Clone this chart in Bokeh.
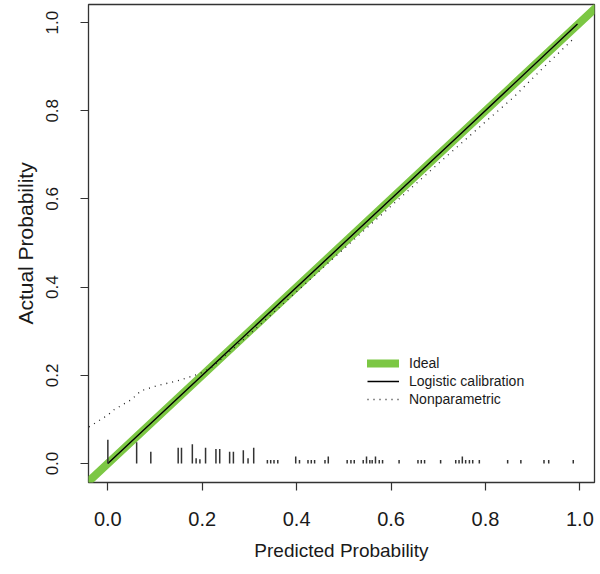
from bokeh.plotting import figure
from bokeh.models import Range1d, FixedTicker, NumeralTickFormatter, Legend, LegendItem
from bokeh.embed import file_html
from bokeh.resources import INLINE

# ---- data ----
tick_values = [0.0, 0.2, 0.4, 0.6, 0.8, 1.0]

ideal_x = [-0.1, 1.1]
ideal_y = [-0.1, 1.1]

logistic_x = [0.0, 0.25, 0.5, 0.75, 0.995]
logistic_y = [0.0, 0.25, 0.5, 0.75, 0.997]

nonpar_x = [-0.04, 0.0, 0.013, 0.05, 0.07, 0.1, 0.155, 0.195, 0.22, 0.25, 0.3,
            0.4, 0.5, 0.6, 0.7, 0.8, 0.86, 0.92, 0.99]
nonpar_y = [0.083, 0.11, 0.122, 0.145, 0.165, 0.175, 0.19, 0.204, 0.218, 0.246, 0.293,
            0.39, 0.487, 0.584, 0.68, 0.775, 0.831, 0.895, 0.967]

rug_x = [0.000, 0.061, 0.091, 0.149, 0.156, 0.179, 0.187, 0.195, 0.207, 0.229,
         0.237, 0.258, 0.266, 0.287, 0.297, 0.309, 0.338, 0.345, 0.352, 0.360,
         0.398, 0.406, 0.424, 0.431, 0.438, 0.460, 0.467, 0.507, 0.515, 0.522,
         0.541, 0.548, 0.555, 0.560, 0.567, 0.575, 0.582, 0.617, 0.657, 0.664,
         0.671, 0.705, 0.737, 0.744, 0.751, 0.758, 0.766, 0.773, 0.787, 0.847,
         0.875, 0.924, 0.934, 0.986]
rug_h = [0.054, 0.048, 0.027, 0.036, 0.036, 0.044, 0.012, 0.010, 0.036, 0.033,
         0.033, 0.027, 0.027, 0.030, 0.012, 0.036, 0.008, 0.008, 0.008, 0.008,
         0.016, 0.008, 0.008, 0.008, 0.008, 0.008, 0.016, 0.008, 0.008, 0.008,
         0.008, 0.016, 0.008, 0.008, 0.016, 0.008, 0.008, 0.008, 0.008, 0.008,
         0.008, 0.008, 0.008, 0.008, 0.016, 0.008, 0.008, 0.008, 0.008, 0.008,
         0.008, 0.008, 0.008, 0.008]
rug_base = [0.0] * len(rug_x)

FONT = "Liberation Sans"

p = figure(width=600, height=574, output_backend="svg", toolbar_location=None,
           x_range=Range1d(-0.041, 1.031), y_range=Range1d(-0.043, 1.041),
           min_border_left=88, min_border_right=6, min_border_top=4, min_border_bottom=92)
p.outline_line_color = "#333333"
p.outline_line_width = 1.3
p.xgrid.grid_line_color = None
p.ygrid.grid_line_color = None
p.background_fill_color = "white"
p.border_fill_color = "white"

for ax in (p.xaxis[0], p.yaxis[0]):
    ax.ticker = FixedTicker(ticks=tick_values)
    ax.formatter = NumeralTickFormatter(format="0.0")
    ax.axis_line_color = None
    ax.major_tick_line_color = "#333333"
    ax.major_tick_line_width = 1.2
    ax.major_tick_out = 8
    ax.major_tick_in = 0
    ax.minor_tick_line_color = None
    ax.major_label_text_font = FONT
    ax.major_label_text_color = "#1a1a1a"
    ax.axis_label_text_font = FONT
    ax.axis_label_text_font_style = "normal"
    ax.axis_label_text_color = "#1a1a1a"

p.xaxis.major_label_text_font_size = "20px"
p.yaxis.major_label_text_font_size = "17px"
p.xaxis.axis_label_text_font_size = "19px"
p.yaxis.axis_label_text_font_size = "21px"

p.xaxis.axis_label = "Predicted Probability"
p.yaxis.axis_label = "Actual Probability"
p.xaxis.major_label_standoff = 21
p.xaxis.axis_label_standoff = 11
p.yaxis.major_label_standoff = 22
p.yaxis.major_label_orientation = "vertical"
p.yaxis.axis_label_standoff = 7

r_ideal = p.line(ideal_x, ideal_y, line_color="#7CC744", line_width=8, line_cap="round")
r_log = p.line(logistic_x, logistic_y, line_color="black", line_width=1.4)
r_np = p.line(nonpar_x, nonpar_y, line_color="#222222", line_width=1.3, line_dash="1 5")
p.segment(x0=rug_x, y0=rug_base, x1=rug_x, y1=rug_h, line_color="#333333", line_width=1.5)

legend = Legend(items=[LegendItem(label="Ideal", renderers=[r_ideal]),
                       LegendItem(label="Logistic calibration", renderers=[r_log]),
                       LegendItem(label="Nonparametric", renderers=[r_np])],
                location=(279, 74), background_fill_alpha=0, border_line_color=None,
                padding=0, margin=0, spacing=0, label_height=18, glyph_height=18,
                glyph_width=32, label_standoff=10,
                label_text_font=FONT, label_text_font_size="14px",
                label_text_color="#1a1a1a")
p.add_layout(legend, "center")

open("out.html", "w").write(file_html(p, INLINE))
